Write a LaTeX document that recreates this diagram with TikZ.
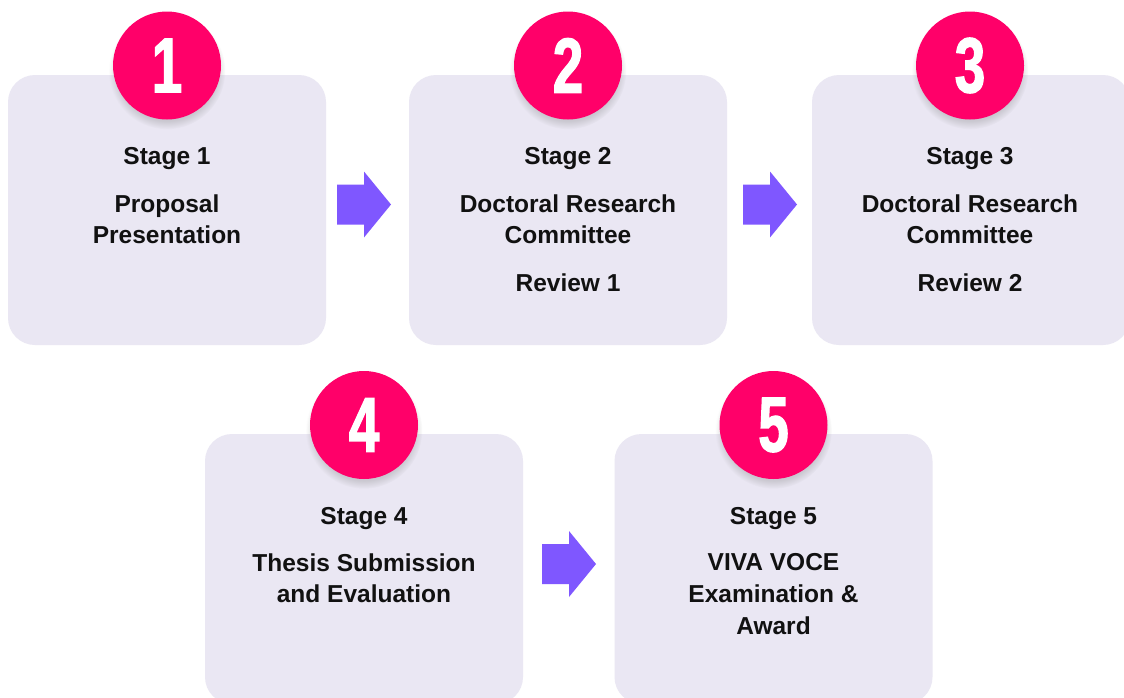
\documentclass[tikz,border=0pt]{standalone}
\usepackage{fontspec}
\setmainfont{Liberation Sans}
\newfontfamily\numfont{Liberation Sans}[FakeStretch=0.7,FakeBold=1.6]
\usetikzlibrary{shadows}
\definecolor{boxfill}{HTML}{EAE7F3}
\definecolor{badge}{HTML}{FF0069}
\definecolor{arrowc}{HTML}{7F57FF}
\definecolor{txt}{HTML}{111111}
\tikzset{
  stagebox/.style={fill=boxfill, rounded corners=27pt, minimum width=318pt, minimum height=270pt, inner sep=0pt, draw=none},
  badgecirc/.style={circle, fill=badge, minimum size=108pt, inner sep=0pt, text=white,
    font=\numfont\bfseries\fontsize{78}{78}\selectfont,
    circular drop shadow={shadow xshift=0pt, shadow yshift=-5pt, shadow scale=1.08, opacity=0.3}},
  stagetxt/.style={anchor=base, inner sep=0pt, text=txt, font=\bfseries\fontsize{24.5}{30}\selectfont},
  pics/blockarrow/.style={code={\fill[arrowc] (-27,-20) -- (0,-20) -- (0,-33) -- (27,0) -- (0,33) -- (0,20) -- (-27,20) -- cycle;}}
}
\begin{document}
\begin{tikzpicture}[x=1pt,y=-1pt]
\useasboundingbox (0,0) rectangle (1124,697);
\clip (0,0) rectangle (1124,697);
\fill[white] (0,0) rectangle (1124,697);
% boxes
\node[stagebox] (b1) at (167,210) {};
\node[stagebox] (b2) at (568,210) {};
\node[stagebox] (b3) at (971,210) {};
\node[stagebox] (b4) at (364,569) {};
\node[stagebox] (b5) at (773.5,569) {};
% badges
\node[badgecirc] (c1) at (167,65.5) {1};
\node[badgecirc] (c2) at (568,65.5) {2};
\node[badgecirc] (c3) at (970,65.5) {3};
\node[badgecirc] (c4) at (364,425) {4};
\node[badgecirc] (c5) at (773.5,425) {5};
% arrows
\pic (a1) at (364,204.5) {blockarrow};
\pic (a2) at (770,204.5) {blockarrow};
\pic (a3) at (569,564) {blockarrow};
% texts box 1
\node[stagetxt] (t1a) at (167,164) {Stage 1};
\node[stagetxt] (t1b) at (167,212) {Proposal};
\node[stagetxt] (t1c) at (167,243) {Presentation};
% box 2
\node[stagetxt] (t2a) at (568,164) {Stage 2};
\node[stagetxt] (t2b) at (568,212) {Doctoral Research};
\node[stagetxt] (t2c) at (568,243) {Committee};
\node[stagetxt] (t2d) at (568,291) {Review 1};
% box 3
\node[stagetxt] (t3a) at (970,164) {Stage 3};
\node[stagetxt] (t3b) at (970,212) {Doctoral Research};
\node[stagetxt] (t3c) at (970,243) {Committee};
\node[stagetxt] (t3d) at (970,291) {Review 2};
% box 4
\node[stagetxt] (t4a) at (364,524) {Stage 4};
\node[stagetxt] (t4b) at (364,571) {Thesis Submission};
\node[stagetxt] (t4c) at (364,602) {and Evaluation};
% box 5
\node[stagetxt] (t5a) at (773.5,524) {Stage 5};
\node[stagetxt] (t5b) at (773.5,570) {VIVA VOCE};
\node[stagetxt] (t5c) at (773.5,602) {Examination \&};
\node[stagetxt] (t5d) at (773.5,634) {Award};
\end{tikzpicture}
\end{document}
